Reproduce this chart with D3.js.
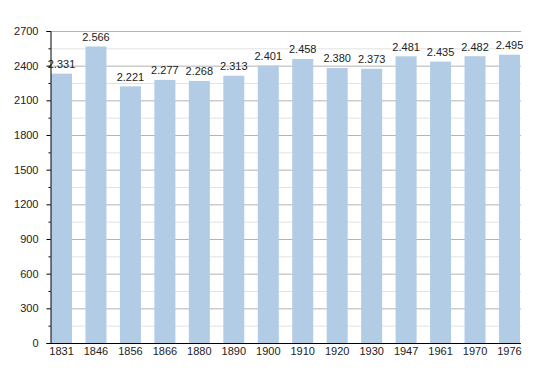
<!DOCTYPE html>
<html><head><meta charset="utf-8">
<script src="https://cdn.jsdelivr.net/npm/d3@7"></script>
<style>body{margin:0;background:#fff}text{font-family:"Liberation Sans",Arial,sans-serif}</style>
</head><body><svg id="c" width="550" height="373"></svg>
<script>
const years = ["1831","1846","1856","1866","1880","1890","1900","1910","1920","1930","1947","1961","1970","1976"];
const population = [2331,2566,2221,2277,2268,2313,2401,2458,2380,2373,2481,2435,2482,2495];
const yTicks = [0,300,600,900,1200,1500,1800,2100,2400,2700];
const yMinorTicks = [150,450,750,1050,1350,1650,1950,2250,2550];

(function(){
const svg = d3.select("#c");
const mL = 50, mR = 521, mT = 31, mB = 343;
const x = d3.scaleBand().domain(years).range([51, 520]).paddingInner(0.39).paddingOuter(0);
const y = d3.scaleLinear().domain([0, 2700]).range([mB, mT]);

// minor grid
svg.append("g").selectAll("line").data(yMinorTicks).join("line")
  .attr("x1", mL).attr("x2", mR).attr("y1", d => y(d)+0.5).attr("y2", d => y(d)+0.5)
  .attr("stroke", "#e2e2e2").attr("stroke-width", 1);
// major grid
svg.append("g").selectAll("line").data(yTicks.filter(d => d > 0)).join("line")
  .attr("x1", mL).attr("x2", mR).attr("y1", d => y(d)+0.5).attr("y2", d => y(d)+0.5)
  .attr("stroke", "#b4b4b4").attr("stroke-width", 1);

// bars
svg.append("g").selectAll("rect").data(population).join("rect")
  .attr("x", (d,i) => x(years[i])).attr("width", x.bandwidth())
  .attr("y", d => y(d)).attr("height", d => mB - y(d))
  .attr("fill", "#b3cce6");

// value labels
const fmt = d => d3.format(",")(d).replace(/,/g, ".");
svg.append("g").selectAll("text").data(population).join("text")
  .attr("x", (d,i) => x(years[i]) + x.bandwidth()/2).attr("y", d => y(d) - 5.5)
  .attr("text-anchor", "middle").attr("font-size", 11).attr("fill", "#222")
  .text(fmt);

// y axis
const yAxis = d3.axisLeft(y).tickValues(yTicks).tickSize(4).tickPadding(8).tickFormat(d3.format("d"));
const ga = svg.append("g").attr("transform", `translate(${mL+0.5},0)`).call(yAxis);
ga.select(".domain").attr("stroke", "#000");
ga.selectAll(".tick line").attr("stroke", "#000");
ga.selectAll("text").attr("font-size", 11).attr("fill", "#222").attr("font-family", "Liberation Sans, Arial, sans-serif");
const yMinor = d3.axisLeft(y).tickValues(yMinorTicks).tickSize(2).tickFormat("");
const gm = svg.append("g").attr("transform", `translate(${mL+0.5},0)`).call(yMinor);
gm.select(".domain").remove();
gm.selectAll(".tick line").attr("stroke", "#000");

// x axis
const xAxis = d3.axisBottom(x).tickSize(0).tickPadding(3.5);
const gx = svg.append("g").attr("transform", `translate(0,${mB+0.5})`).call(xAxis);
gx.select(".domain").remove();
gx.selectAll("text").attr("font-size", 11).attr("fill", "#222").attr("font-family", "Liberation Sans, Arial, sans-serif");
svg.append("line").attr("x1", mL).attr("x2", mR).attr("y1", mB+0.5).attr("y2", mB+0.5).attr("stroke", "#000");
})();
</script></body></html>
